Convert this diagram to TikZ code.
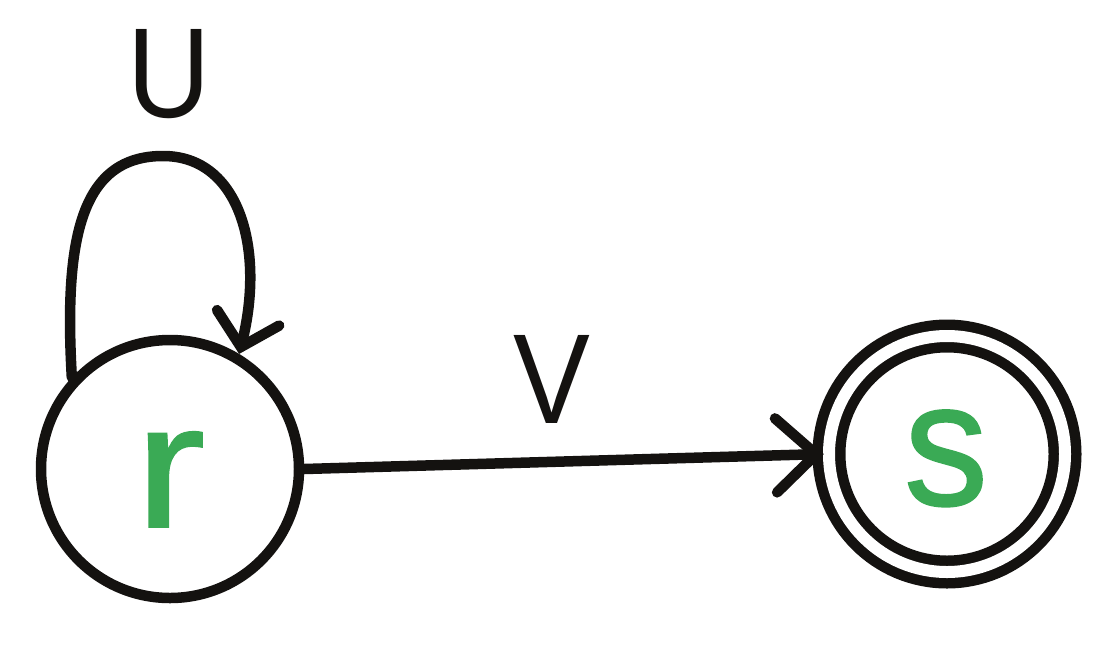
\documentclass[tikz,border=0pt]{standalone}
\usepackage{fontspec}
\setmainfont{Liberation Sans}
\newfontfamily\letterfont[FakeBold=1]{Liberation Sans}
\usetikzlibrary{arrows.meta}
\definecolor{ink}{HTML}{141210}
\definecolor{lettergreen}{HTML}{3AAA55}
\begin{document}
\begin{tikzpicture}[x=1pt,y=-1pt,
  state/.style={circle,draw=ink,line width=10.5pt,minimum size=258pt,inner sep=0pt},
  accept/.style={circle,draw=ink,line width=10.5pt,double=white,double distance=12pt,minimum size=236pt,inner sep=0pt},
  letter/.style={text=lettergreen,font=\letterfont\fontsize{177}{177}\selectfont,anchor=base,inner sep=0pt},
  edgelabel/.style={text=ink,font=\fontsize{128}{128}\selectfont,anchor=base,inner sep=0pt,xscale=0.9},
  edge/.style={draw=ink,line width=10.5pt,line cap=round}
]
\useasboundingbox (0,0) rectangle (1108,646);
\node[state] (r) at (170,469) {};
\node[accept] (s) at (947,454) {};
\node[letter,xscale=1.2] (rl) at (170,527) {r};
\node[letter,xscale=0.95] (sl) at (946,505) {s};
\node[edgelabel] (U) at (169,117) {U};
\node[edgelabel] (V) at (552,423) {V};
\coordinate (top) at (163,156);
\draw[edge,-{Straight Barb[length=30pt,width=64pt,line cap=round]}]
  (r.137) .. controls (64,240) and (80,156) .. (top)
  .. controls (240,156) and (265,250) .. (r.59);
\draw[edge,-{Straight Barb[length=40pt,width=74pt,line cap=round]}]
  (r.east) -- (s.west);
\end{tikzpicture}
\end{document}
